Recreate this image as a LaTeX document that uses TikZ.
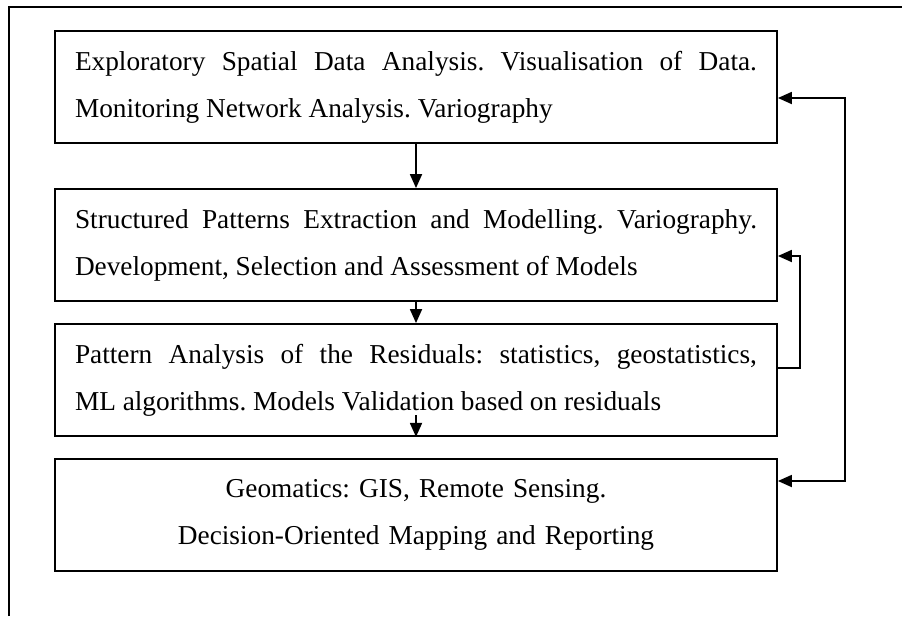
\documentclass[tikz,border=0pt]{standalone}
\usepackage{fontspec}
\setmainfont{Liberation Serif}
\usetikzlibrary{arrows.meta}
\tikzset{
  box/.style={draw, line width=1.8pt, minimum width=722pt, minimum height=112pt,
    inner xsep=20pt, inner ysep=0pt, text width=682pt,
    font=\fontsize{27.3}{47}\selectfont\frenchspacing},
  jbox/.style={box, align=justify},
  cbox/.style={box, align=center},
  arr/.style={line width=1.8pt, -{Triangle[length=14pt,width=12pt]}},
  darr/.style={line width=1.8pt, {Triangle[length=14pt,width=12pt]}-{Triangle[length=14pt,width=12pt]}}
}
\begin{document}
\begin{tikzpicture}[x=1pt,y=-1pt]
\useasboundingbox (0,0) rectangle (902,616);
% outer frame (cut by the page on the right and at the bottom)
\draw[line width=1.8pt] (9,616) -- (9,7) -- (902,7);

\node[jbox] (b1) at (416,87) {Exploratory Spatial Data Analysis. Visualisation of Data.\linebreak Monitoring Network Analysis. Variography};
\node[jbox] (b2) at (416,245) {Structured Patterns Extraction and Modelling. Variography.\linebreak Development, Selection and Assessment of Models};
\node[jbox] (b3) at (416,380) {Pattern Analysis of the Residuals: statistics, geostatistics,\linebreak ML algorithms. Models Validation based on residuals};
\node[cbox] (b4) at (416,515) {Geomatics: GIS, Remote Sensing.\\ Decision-Oriented Mapping and Reporting};

\coordinate (c3) at (416,415);
\coordinate (o1) at (845,98);
\coordinate (o2) at (845,481);
\coordinate (i1) at (800,368);
\coordinate (i2) at (800,256);

\draw[arr] (b1.south) -- (b2.north);
\draw[arr] (b2.south) -- (b3.north);
\draw[arr] (c3) -- (b3.south);
\draw[darr] (b1.east |- o1) -- (o1) -- (o2) -- (b4.east |- o2);
\draw[arr] (b3.east |- i1) -- (i1) -- (i2) -- (b2.east |- i2);
\end{tikzpicture}
\end{document}
